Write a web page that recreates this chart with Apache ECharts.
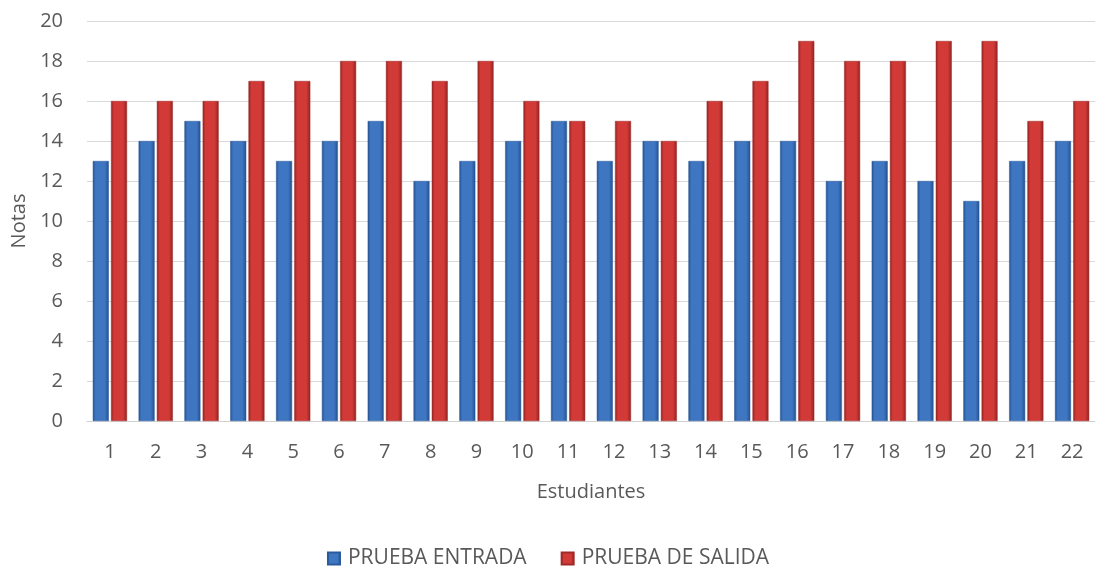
<!DOCTYPE html>
<html>
<head>
<meta charset="utf-8">
<script src="https://cdn.jsdelivr.net/npm/echarts@6/dist/echarts.min.js"></script>
<style>
  html, body { margin:0; padding:0; background:#fff; }
  #chart { width:1096px; height:570px; }
</style>
</head>
<body>
<div id="chart"></div>
<script>
// === Datos ===
const estudiantes = ['1','2','3','4','5','6','7','8','9','10','11','12','13','14','15','16','17','18','19','20','21','22'];
const entrada = [13,14,15,14,13,14,15,12,13,14,15,13,14,13,14,14,12,13,12,11,13,14];
const salida  = [16,16,16,17,17,18,18,17,18,16,15,15,14,16,17,19,18,18,19,19,15,16];

// === Estilo (bisel tipo Excel) ===
const txt = '#595959', font = '"Open Sans", "Liberation Sans", sans-serif';
const bevel = (edge, mid) => ({ type:'linear', x:0, y:0, x2:1, y2:0, colorStops:[
  { offset:0, color:edge }, { offset:0.18, color:mid }, { offset:0.75, color:mid }, { offset:1, color:edge } ] });
const blue = bevel('#24508e', '#3f76c2');
const red  = bevel('#8e2321', '#d23a37');

const chart = echarts.init(document.getElementById('chart'));
chart.setOption({
  animation:false,
  textStyle:{ fontFamily:font, color:txt },
  grid:{ left:87, right:1, top:21, bottom:149, outerBoundsMode:'none', containLabel:false },
  legend:{ top:543, itemGap:34, itemWidth:12, itemHeight:12, icon:'rect',
    textStyle:{ color:txt, fontSize:21, fontFamily:font, padding:[0,0,0,3] },
    data:['PRUEBA ENTRADA','PRUEBA DE SALIDA'] },
  xAxis:{ type:'category', data:estudiantes,
    name:'Estudiantes', nameLocation:'middle', nameGap:61,
    nameTextStyle:{ color:txt, fontSize:20, fontFamily:font },
    axisLine:{ lineStyle:{ color:'#d0d0d0' } }, axisTick:{ show:false },
    axisLabel:{ color:txt, fontSize:20, margin:21 } },
  yAxis:{ type:'value', min:0, max:20, interval:2,
    name:'Notas', nameLocation:'middle', nameGap:57, nameRotate:90,
    nameTextStyle:{ color:txt, fontSize:20, fontFamily:font },
    axisLine:{ show:false }, axisTick:{ show:false },
    axisLabel:{ color:txt, fontSize:20, margin:24 },
    splitLine:{ lineStyle:{ color:'#d9d9d9' } } },
  series:[
    { name:'PRUEBA ENTRADA', type:'bar', data:entrada, barWidth:16, barGap:'14%',
      itemStyle:{ color:blue, borderColor:'#2a5a9c', borderWidth:0.5 } },
    { name:'PRUEBA DE SALIDA', type:'bar', data:salida, barWidth:16, barGap:'14%',
      itemStyle:{ color:red, borderColor:'#a02a28', borderWidth:0.5 } }
  ]
});
</script>
</body>
</html>
